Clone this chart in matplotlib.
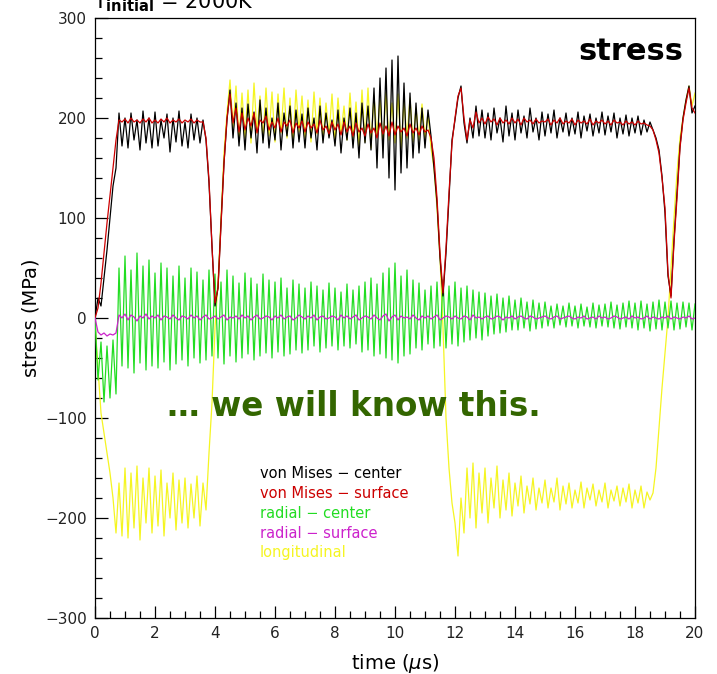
import numpy as np
import matplotlib
matplotlib.use('Agg')
import matplotlib.pyplot as plt
from matplotlib.ticker import MultipleLocator

# time grid, 0.1 us steps
t = np.round(np.arange(0, 20.05, 0.1), 2)

von_mises_center = [
    0, 20, 12, 40, 68, 100, 132, 150, 205, 172,
    200, 170, 205, 178, 198, 168, 207, 175, 200, 170,
    206, 172, 198, 180, 204, 166, 200, 176, 207, 172,
    196, 170, 204, 178, 200, 175, 198, 178, 135, 72,
    12, 30, 95, 155, 198, 228, 180, 215, 172, 210,
    168, 214, 180, 206, 165, 218, 175, 210, 170, 200,
    178, 215, 168, 205, 182, 212, 170, 208, 176, 204,
    170, 210, 180, 200, 168, 212, 175, 205, 180, 198,
    172, 208, 165, 200, 178, 210, 170, 205, 160, 215,
    175, 212, 168, 230, 150, 240, 160, 250, 140, 258,
    128, 262, 145, 235, 150, 225, 160, 215, 165, 210,
    170, 208, 182, 150, 115, 60, 22, 65, 120, 178,
    198, 220, 232, 195, 175, 200, 180, 212, 182, 208,
    180, 205, 178, 210, 185, 200, 176, 212, 182, 205,
    178, 208, 185, 202, 180, 210, 186, 200, 178, 206,
    182, 204, 185, 208, 180, 200, 186, 205, 182, 200,
    184, 206, 180, 202, 187, 204, 182, 200, 185, 206,
    183, 202, 186, 205, 180, 200, 184, 203, 182, 200,
    185, 202, 183, 198, 186, 196, 188, 180, 168, 142,
    105, 42, 22, 78, 125, 172, 200, 218, 232, 205,
    212]

von_mises_surface = [
    0, 10, 35, 65, 95, 122, 150, 178, 198, 196,
    199, 195, 200, 196, 198, 195, 199, 196, 200, 195,
    198, 195, 199, 196, 200, 195, 198, 196, 199, 195,
    198, 196, 199, 195, 198, 196, 196, 180, 138, 71,
    15, 30, 92, 155, 200, 224, 195, 210, 186, 205,
    188, 200, 192, 205, 185, 198, 195, 202, 188, 196,
    190, 200, 186, 196, 192, 198, 185, 195, 190, 197,
    186, 196, 190, 194, 185, 198, 188, 192, 184, 196,
    188, 194, 183, 196, 186, 192, 182, 195, 186, 190,
    182, 194, 185, 190, 180, 195, 184, 192, 182, 196,
    183, 192, 186, 190, 182, 194, 185, 190, 183, 192,
    186, 188, 180, 160, 120, 65, 25, 70, 125, 175,
    200, 222, 230, 200, 178, 198, 190, 206, 195, 200,
    194, 201, 196, 199, 193, 200, 195, 198, 194, 200,
    195, 199, 193, 200, 196, 198, 194, 199, 195, 197,
    196, 199, 193, 198, 195, 200, 194, 197, 195, 199,
    193, 198, 195, 197, 194, 199, 193, 197, 195, 198,
    194, 197, 193, 198, 195, 196, 193, 197, 194, 196,
    193, 197, 194, 195, 193, 192, 188, 178, 165, 140,
    110, 45, 20, 75, 120, 170, 198, 215, 230, 210,
    205]

radial_center = [
    0, -62, -24, -84, -28, -80, -22, -76, 50, -48,
    62, -50, 48, -55, 65, -45, 52, -52, 58, -48,
    45, -50, 55, -44, 50, -52, 42, -46, 52, -42,
    40, -48, 50, -40, 46, -45, 38, -42, 48, -38,
    44, -40, 36, -46, 48, -38, 42, -44, 35, -40,
    45, -36, 40, -42, 34, -38, 44, -35, 38, -40,
    36, -34, 40, -38, 30, -36, 38, -32, 34, -35,
    30, -32, 36, -28, 32, -34, 28, -30, 35, -28,
    30, -32, 26, -28, 34, -30, 28, -26, 32, -34,
    36, -32, 40, -38, 34, -36, 45, -40, 50, -42,
    55, -45, 42, -38, 48, -36, 38, -30, 35, -32,
    28, -26, 32, -30, 36, -28, 38, -30, 32, -26,
    36, -28, 30, -24, 32, -22, 28, -20, 26, -22,
    25, -18, 22, -16, 24, -15, 20, -14, 22, -12,
    18, -12, 20, -10, 16, -13, 18, -11, 15, -10,
    16, -8, 12, -10, 14, -7, 12, -9, 15, -8,
    12, -10, 14, -8, 11, -9, 15, -10, 13, -8,
    14, -9, 16, -10, 13, -11, 15, -9, 17, -10,
    15, -12, 17, -10, 14, -13, 16, -11, 18, -12,
    16, -10, 17, -12, 15, -11, 16, -9, 15, -12,
    14]

radial_surface = [
    0, -14, -17, -15, -18, -16, -17, -15, 3, 0,
    4, -2, 3, 1, -3, 2, 0, 4, -1, 2,
    0, 3, -2, 2, 1, -1, 3, 0, -2, 2,
    1, -1, 3, 0, 2, -2, 1, 3, -1, 0,
    2, -1, 1, 3, -2, 1, 0, 2, -1, 3,
    0, 2, -2, 1, 3, -1, 0, 2, 1, -2,
    2, 0, 3, -1, 1, 2, -2, 0, 3, 1,
    -1, 2, 0, 3, -2, 1, 2, -1, 0, 2,
    1, -2, 3, 0, 2, -1, 1, 3, -2, 0,
    2, 1, -1, 3, 0, -2, 2, 4, -3, 1,
    3, -2, 2, 0, 1, -1, 3, 0, -2, 2,
    0, 2, -1, 1, 3, -2, 0, 2, 1, -1,
    2, 0, -1, 2, 1, -2, 3, 0, 1, -1,
    1, 2, -1, 0, 2, 1, -2, 1, 0, 2,
    -1, 1, 2, 0, -1, 2, 1, -1, 0, 1,
    2, 0, -1, 1, 2, -1, 0, 1, 2, 0,
    -1, 1, 0, 2, -1, 0, 1, -1, 2, 0,
    1, -1, 0, 2, 1, -1, 0, 1, -1, 2,
    0, 1, -1, 0, 2, -1, 1, 0, -1, 1,
    0, 2, -1, 1, 0, -1, 1, 0, 2, -1,
    0]

longitudinal = [
    -5, -50, -95, -115, -135, -155, -180, -215, -165, -218,
    -150, -220, -155, -210, -148, -222, -160, -205, -150, -215,
    -158, -208, -152, -218, -165, -200, -155, -212, -162, -205,
    -160, -210, -166, -200, -158, -208, -165, -192, -135, -85,
    -10, 35, 100, 165, 205, 238, 190, 232, 178, 225,
    180, 228, 175, 235, 185, 222, 178, 230, 182, 226,
    176, 224, 185, 230, 180, 220, 174, 228, 186, 222,
    180, 218, 176, 226, 184, 220, 178, 215, 182, 224,
    175, 220, 184, 212, 178, 225, 180, 216, 172, 228,
    176, 230, 170, 222, 182, 218, 172, 226, 178, 215,
    175, 224, 170, 216, 180, 220, 176, 210, 178, 214,
    180, 205, 170, 150, 110, 60, -10, -100, -150, -185,
    -205, -238, -180, -215, -150, -200, -145, -210, -155, -195,
    -150, -205, -160, -190, -148, -200, -162, -192, -155, -198,
    -165, -188, -158, -195, -168, -186, -160, -192, -170, -185,
    -162, -190, -170, -184, -160, -192, -168, -186, -165, -190,
    -172, -185, -164, -190, -170, -182, -166, -188, -172, -184,
    -165, -190, -172, -183, -168, -188, -170, -184, -166, -190,
    -172, -185, -168, -190, -174, -182, -175, -150, -110, -70,
    -35, 0, 50, 100, 145, 180, 200, 218, 232, 212,
    225]

labels = ['von Mises \u2212 center', 'von Mises \u2212 surface', 'radial \u2212 center',
          'radial \u2212 surface', 'longitudinal']
colors = ['#000000', '#cc0000', '#22dd22', '#cc22cc', '#f5f522']

fig = plt.figure(figsize=(7.17, 6.74), dpi=100)
ax = fig.add_axes([95/717, 1 - 618/674, 600/717, 600/674])

ax.plot(t, longitudinal, color=colors[4], lw=0.9, zorder=2)
ax.plot(t, radial_center, color=colors[2], lw=0.9, zorder=3)
ax.plot(t, von_mises_center, color=colors[0], lw=0.9, zorder=4)
ax.plot(t, von_mises_surface, color=colors[1], lw=0.9, zorder=5)
ax.plot(t, radial_surface, color=colors[3], lw=0.9, zorder=6)

ax.set_xlim(0, 20)
ax.set_ylim(-300, 300)
ax.xaxis.set_major_locator(MultipleLocator(2))
ax.xaxis.set_minor_locator(MultipleLocator(0.5))
ax.yaxis.set_major_locator(MultipleLocator(100))
ax.yaxis.set_minor_locator(MultipleLocator(20))
ax.tick_params(which='both', direction='in', top=False, right=False,
               labelsize=11, width=0.9, color='black', labelcolor='#222222')
ax.tick_params(which='major', length=9, pad=6)
ax.tick_params(which='minor', length=5)
for s in ax.spines.values():
    s.set_linewidth(0.9)

ax.set_xlabel('time ($\\mu$s)', fontsize=14, labelpad=8)
ax.set_ylabel('stress (MPa)', fontsize=14, labelpad=3)

# title is cut by the top edge, as in the original slide
fig.text(93/717, 1 - 8/674, 'T$_{\\mathbf{initial}}$ = 2000K', fontsize=15,
         ha='left', va='baseline')
ax.text(0.98, 0.945, 'stress', transform=ax.transAxes, fontsize=22,
        fontweight='bold', ha='right', va='center')
ax.text(0.432, 0.352, '\u2026 we will know this.', transform=ax.transAxes,
        fontsize=23.5, fontweight='bold', color='#336600', ha='center', va='center')

for i, (lab, c) in enumerate(zip(labels, colors)):
    fig.text(260/717, 1 - (473 + 20*i)/674, lab, color=c, fontsize=10.5,
             ha='left', va='center')

fig.savefig('out.png', dpi=100)
